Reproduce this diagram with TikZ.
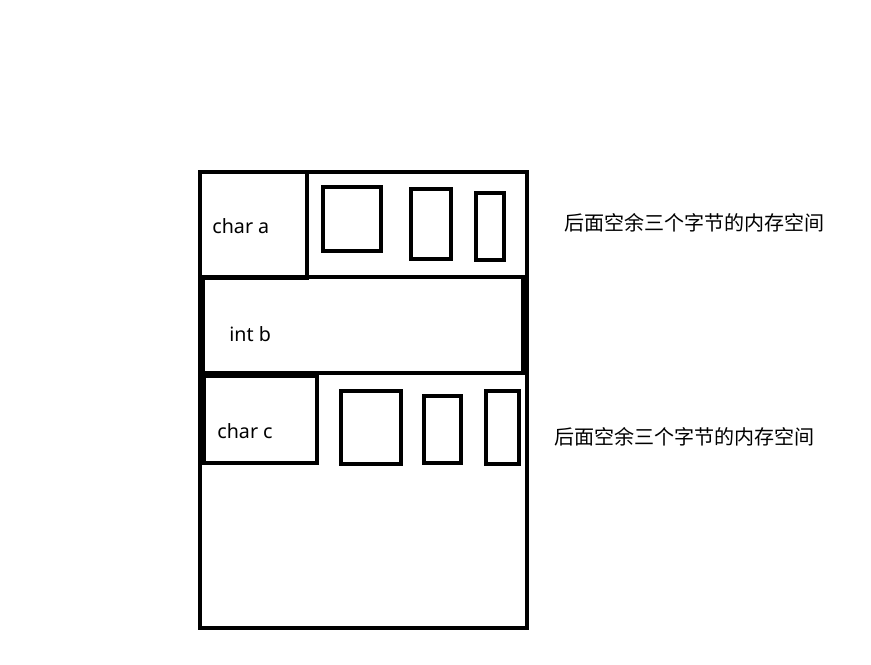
\documentclass[tikz,border=0pt]{standalone}
\usepackage{fontspec}
\setmainfont{Noto Sans}
\newfontfamily\cjk{Noto Sans CJK SC}

\begin{document}
\begin{tikzpicture}[x=0.02cm, y=-0.02cm]
    \tikzstyle{box} = [draw=black, line width=2.7pt]
    \tikzstyle{lbl} = [font=\fontsize{11.2}{13}\selectfont, anchor=west, inner sep=0pt]
    \tikzstyle{note} = [font=\cjk\fontsize{11.4}{13}\selectfont, anchor=west, inner sep=0pt]

    \useasboundingbox (0,0) rectangle (871,665);

    % outer frame
    \draw[box] (200,172) rectangle (527,628);

    % first row
    \draw[box] (200,172) rectangle (307,278);
    \draw[box] (307,277) -- (527,277);
    \draw[box] (323,187) rectangle (381,251);
    \draw[box] (411,189) rectangle (451,259);
    \draw[box] (476,193) rectangle (504,260);

    % second row
    \draw[box] (203,277) rectangle (523,373);

    % third row
    \draw[box] (204,376) rectangle (317,463);
    \draw[box] (341,391) rectangle (401,464);
    \draw[box] (424,396) rectangle (461,463);
    \draw[box] (486,391) rectangle (519,464);

    \node(chara) [lbl] at (212,226) {char a};
    \node(intb)  [lbl] at (229,334) {int b};
    \node(charc) [lbl] at (217,431) {char c};

    \node(resta) [note] at (564,223) {后面空余三个字节的内存空间};
    \node(restc) [note] at (554,437) {后面空余三个字节的内存空间};
\end{tikzpicture}
\end{document}
